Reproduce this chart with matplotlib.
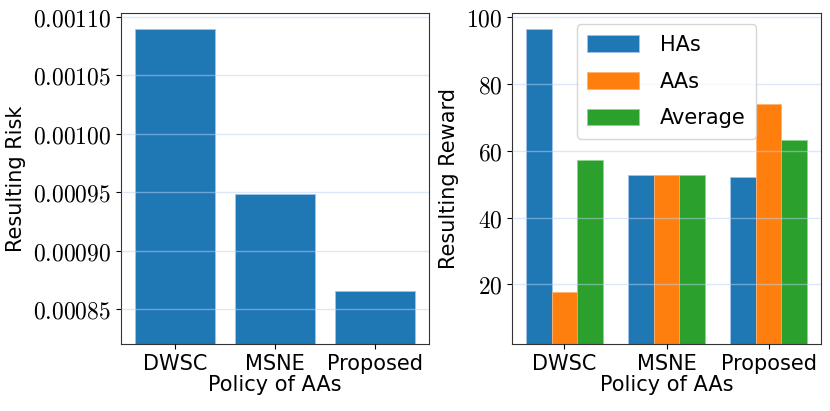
import numpy as np
import matplotlib
matplotlib.use('Agg')
import matplotlib.pyplot as plt
from matplotlib.ticker import FuncFormatter

plt.rcParams['mathtext.fontset'] = 'cm'
plt.rcParams['font.family'] = 'DejaVu Sans'

# data
policies = ['DWSC', 'MSNE', 'Proposed']
risk = [0.001090, 0.0009485, 0.000865]
reward_has = [96.5, 52.75, 52.25]
reward_aas = [17.8, 52.75, 73.9]
reward_avg = [57.15, 52.75, 63.1]
risk_ticks = [0.00085, 0.00090, 0.00095, 0.00100, 0.00105, 0.00110]
reward_ticks = [20, 40, 60, 80, 100]

FS = 15
TFS = 17
grid_kw = dict(color='#b9d2f5', alpha=0.5, linewidth=1.0)
bar_kw = dict(edgecolor='#9fc4ea', linewidth=0.6)

fig = plt.figure(figsize=(8.3, 4.11), dpi=100)
ax1 = fig.add_axes([121 / 830, 1 - 344 / 411, (429 - 121) / 830, (344 - 13) / 411])
ax2 = fig.add_axes([512 / 830, 1 - 344 / 411, (821 - 512) / 830, (344 - 13) / 411])

x = np.arange(len(policies))

# left: resulting risk
ax1.bar(x, risk, width=0.8, color='#1f77b4', **bar_kw)
ax1.set_ylim(0.00082, 0.0011035)
ax1.set_yticks(risk_ticks)
ax1.yaxis.set_major_formatter(FuncFormatter(lambda v, p: f'${v:.5f}$'))
ax1.set_xticks(x)
ax1.set_xticklabels(policies, fontsize=FS)
ax1.set_xlabel('Policy of AAs', fontsize=FS, labelpad=1)
ax1.set_ylabel('Resulting Risk', fontsize=FS, labelpad=5)

# right: resulting reward
w = 0.25
ax2.bar(x - w, reward_has, width=w, color='#1f77b4', label='HAs', **bar_kw)
ax2.bar(x, reward_aas, width=w, color='#ff7f0e', label='AAs', edgecolor='#ffb070', linewidth=0.6)
ax2.bar(x + w, reward_avg, width=w, color='#2ca02c', label='Average', edgecolor='#8fd48f', linewidth=0.6)
ax2.set_ylim(2.2, 101.2)
ax2.set_yticks(reward_ticks)
ax2.yaxis.set_major_formatter(FuncFormatter(lambda v, p: f'${int(v)}$'))
ax2.set_xticks(x)
ax2.set_xticklabels(policies, fontsize=FS)
ax2.set_xlabel('Policy of AAs', fontsize=FS, labelpad=1)
ax2.set_ylabel('Resulting Reward', fontsize=FS, labelpad=5)
ax2.legend(loc='upper center', fontsize=FS, handlelength=2.5, handleheight=0.87,
           labelspacing=0.8, borderaxespad=0.55, handletextpad=1.0, borderpad=0.5)

for ax in (ax1, ax2):
    ax.tick_params(axis='y', labelsize=TFS)
    ax.yaxis.grid(True, **grid_kw)
    ax.set_axisbelow(False)
    for s in ax.spines.values():
        s.set_color('#333333')

fig.savefig('out.png', dpi=100)
